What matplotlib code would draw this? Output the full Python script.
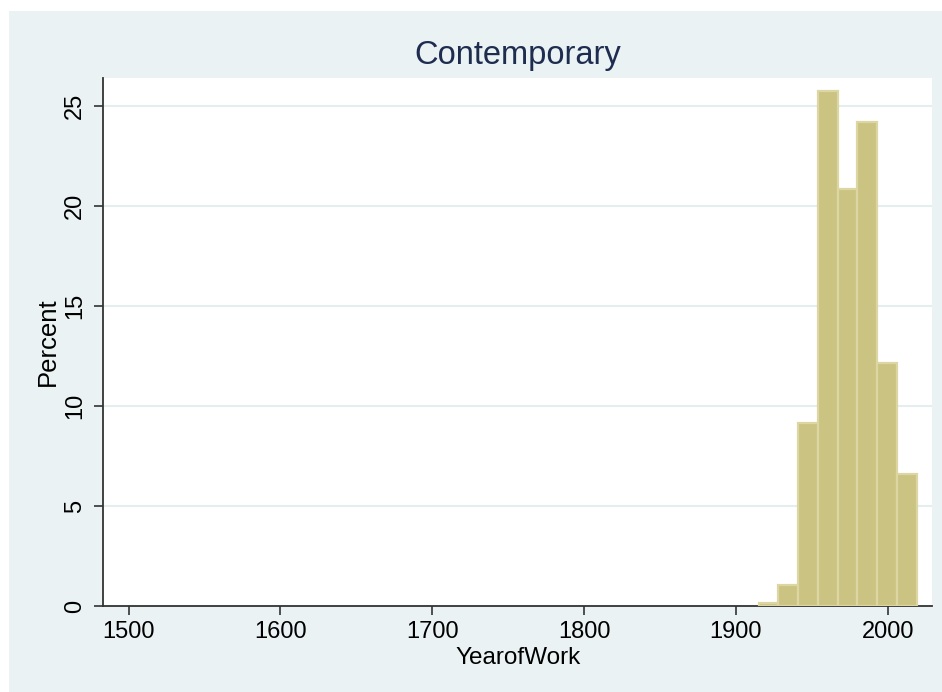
import matplotlib.pyplot as plt
from matplotlib.patches import Rectangle

# histogram of year of work, contemporary period (percent per bin)
bin_edges = [1915, 1928, 1941, 1954, 1967, 1980, 1993, 2006, 2019]
percent = [0.15, 1.05, 9.15, 25.75, 20.85, 24.2, 12.15, 6.6]
x_ticks = [1500, 1600, 1700, 1800, 1900, 2000]
y_ticks = [0, 5, 10, 15, 20, 25]

plt.rcParams["font.family"] = ["Liberation Sans", "DejaVu Sans"]

bg = "#EAF2F3"
fig = plt.figure(figsize=(9.42, 6.92), dpi=100, facecolor="white")
fig.patches.append(Rectangle((9 / 942, 0), 1, 1 - 11 / 692, transform=fig.transFigure,
                             facecolor=bg, edgecolor="none", zorder=-10))

ax = fig.add_axes([103.3 / 942, 1 - 606 / 692, (932.3 - 103.3) / 942, (606 - 78) / 692])
ax.set_facecolor("white")

widths = [b - a for a, b in zip(bin_edges[:-1], bin_edges[1:])]
ax.bar(bin_edges[:-1], percent, width=widths, align="edge",
       color="#CBC382", edgecolor="#DCD6A2", linewidth=1.6, zorder=3)

ax.set_xlim(1483.4, 2029.3)
ax.set_ylim(0, 26.4)
ax.set_xticks(x_ticks)
ax.set_yticks(y_ticks)
ax.set_yticklabels([str(t) for t in y_ticks], rotation=90, va="center")

ax.grid(axis="y", color="#E6EDEF", linewidth=1.5, zorder=0)
ax.tick_params(axis="both", labelsize=17, length=6.5, width=1.2, color="#333333")
ax.tick_params(axis="x", pad=4)
ax.tick_params(axis="y", pad=6)

for side in ["top", "right"]:
    ax.spines[side].set_visible(False)
for side in ["left", "bottom"]:
    ax.spines[side].set_color("#333333")
    ax.spines[side].set_linewidth(1.3)

ax.set_title("Contemporary", fontsize=23.5, color="#1E2C4F", pad=10)
ax.set_xlabel("YearofWork", fontsize=17.5, labelpad=3)
ax.set_ylabel("Percent", fontsize=18.5, labelpad=3)

plt.savefig("out.png", dpi=100, facecolor="white")
